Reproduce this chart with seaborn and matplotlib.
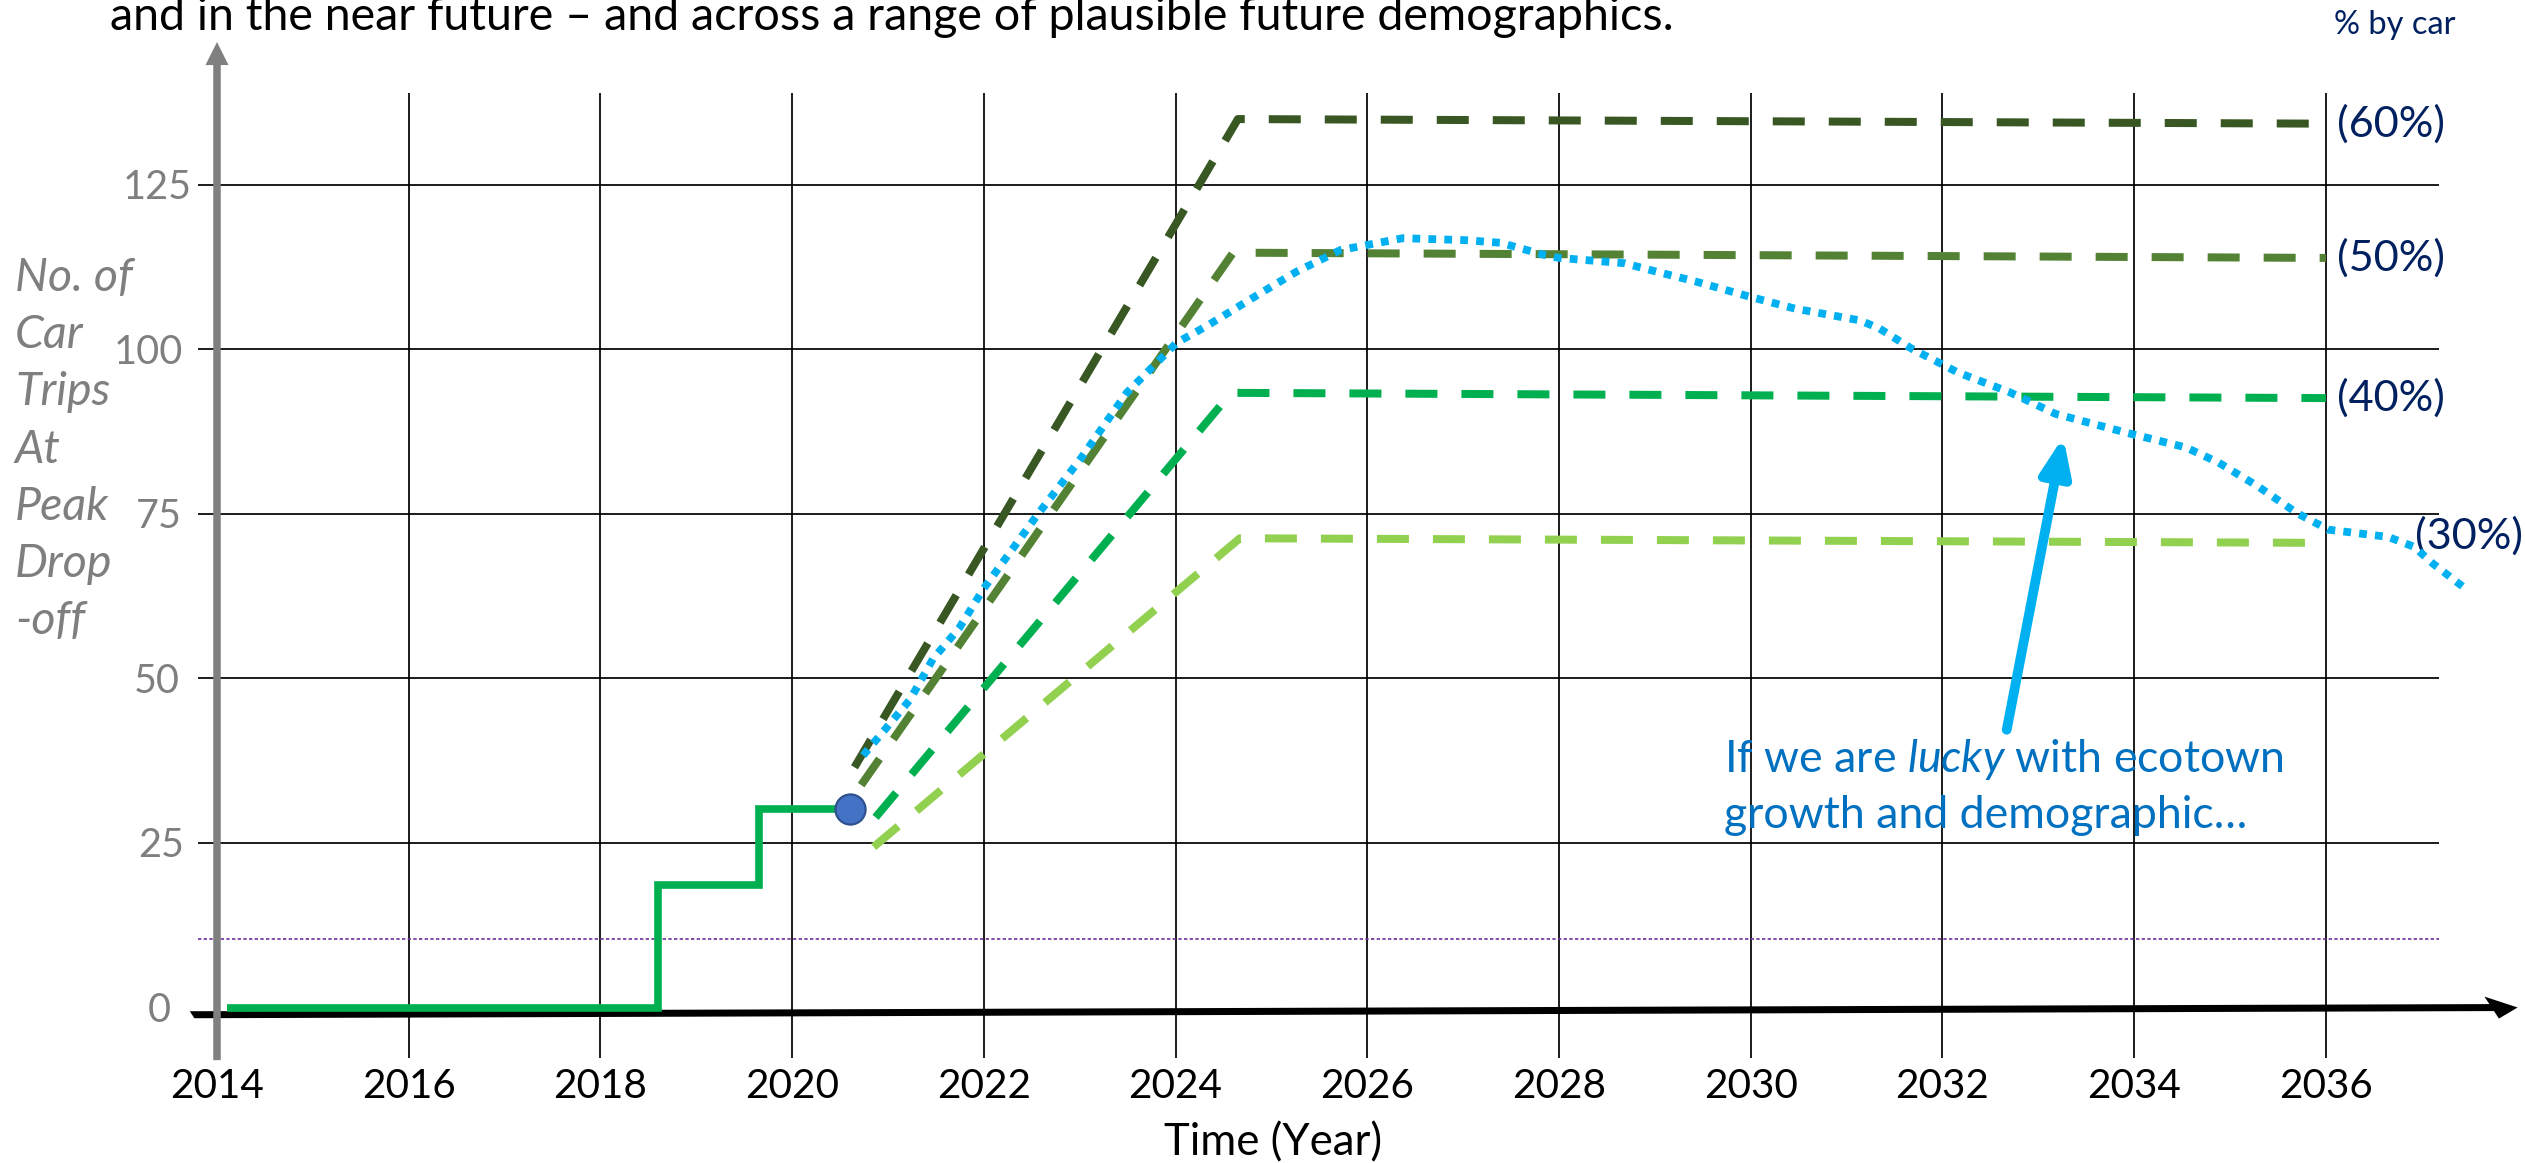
import matplotlib
matplotlib.use("Agg")
import matplotlib.pyplot as plt
import numpy as np
import pandas as pd
import seaborn as sns

# ---------------------------------------------------------------- data
# Observed peak drop-off car trips (stepped history) and today's value
hist_years = [2014.1, 2018.6, 2019.65, 2020.6]
hist_trips = [0.0, 18.6, 30.2, 30.2]
now_year = [2020.6]
now_trips = [30.2]

# Projections for different shares of trips made by car
share_labels = ["(60%)", "(50%)", "(40%)", "(30%)"]
share_years = [
    [2020.65, 2024.65, 2036.0],
    [2020.72, 2024.60, 2036.0],
    [2020.87, 2024.58, 2036.0],
    [2020.85, 2024.67, 2036.0],
]
share_trips = [
    [36.5, 135.0, 134.3],
    [33.8, 114.7, 113.9],
    [28.9, 93.4, 92.6],
    [24.4, 71.3, 70.6],
]

# "Lucky" trajectory: growth and demographic mix that favour fewer car trips
lucky_years = [2020.74, 2020.96, 2021.23, 2021.47, 2021.74, 2022.0, 2022.56,
               2023.02, 2023.49, 2024.01, 2024.33, 2024.79, 2025.26, 2025.72,
               2026.37, 2027.02, 2027.39, 2027.86, 2028.0, 2028.68, 2029.02,
               2029.43, 2029.99, 2030.46, 2031.14, 2031.34, 2031.68, 2032.16,
               2032.7, 2033.18, 2033.93, 2034.54, 2034.88, 2035.29, 2035.7,
               2036.03, 2036.65, 2036.92, 2037.12, 2037.46]
lucky_trips = [38.3, 42.1, 46.8, 53.0, 57.6, 63.7, 74.9,
               83.6, 93.4, 101.0, 103.6, 107.7, 111.8, 115.1,
               116.9, 116.6, 116.2, 114.3, 113.9, 113.1, 111.8,
               110.3, 108.0, 106.2, 104.4, 103.2, 100.1, 96.5,
               93.5, 90.2, 87.3, 85.1, 82.8, 79.2, 75.1,
               72.6, 71.5, 70.0, 67.4, 63.6]

threshold_trips = 10.4

x_ticks = [2014, 2016, 2018, 2020, 2022, 2024, 2026, 2028, 2030, 2032, 2034, 2036]
y_ticks = [0, 25, 50, 75, 100, 125]

# ---------------------------------------------------------------- styling
share_colors = ["#385723", "#548235", "#00B050", "#92D050"]
share_label_x = [2036.12, 2036.12, 2036.12, 2036.93]
share_label_dy = [0.0, 0.0, 0.0, 1.0]
ytick_right_px = [171, 184, 180, 182, 183, 192]
NAVY = "#002060"
GREY = "#7F7F7F"
LUCKY_BLUE = "#00B0F0"
NOTE_BLUE = "#0070C0"

sns.set_theme(style="white")
plt.rcParams["font.family"] = ["Lato", "DejaVu Sans"]
plt.rcParams["mathtext.fontset"] = "custom"
plt.rcParams["mathtext.rm"] = "Lato"
plt.rcParams["mathtext.it"] = "Lato:italic"

W, H = 2525, 1163
fig = plt.figure(figsize=(W / 100, H / 100), dpi=100)
ax = fig.add_axes([0, 0, 1, 1])

# pixel <-> data mapping of the canvas
PPX = 95.86            # pixels per year
PPY = 6.581            # pixels per trip
X_LEFT = 2014 - 217 / PPX
Y_TOP = 1007.5 / PPY
ax.set_xlim(X_LEFT, X_LEFT + W / PPX)
ax.set_ylim(Y_TOP - H / PPY, Y_TOP)
ax.set_axis_off()


def dx(p):
    return X_LEFT + p / PPX


def dy(p):
    return Y_TOP - p / PPY


GRID_X0, GRID_X1 = 2013.8, 2037.18

# grid
ax.vlines(x_ticks[1:], -7.7, 139.0, colors="black", lw=1.25, zorder=1)
ax.hlines(y_ticks[1:], GRID_X0, GRID_X1, colors="black", lw=1.25, zorder=1)
ax.hlines(threshold_trips, GRID_X0, GRID_X1, colors="#7030A0", lw=1.2,
          linestyles=[(0, (2, 1.4))], zorder=1.5)

# axis arrows
ax.arrow(2013.74, -1.1, 2038.0 - 2013.74, 1.1, width=7 / PPY,
         head_width=22 / PPY, head_length=26 / PPX,
         length_includes_head=True, color="black", lw=0, zorder=3)
ax.arrow(2014, -8.0, 0, 146.7 + 8.0, width=7.5 / PPX,
         head_width=23 / PPX, head_length=23 / PPY,
         length_includes_head=True, color="#808080", lw=0, zorder=3)

# history
sns.lineplot(x=hist_years, y=hist_trips, ax=ax, color="#00B050", lw=5.5,
             drawstyle="steps-post", estimator=None, sort=False,
             solid_joinstyle="miter", solid_capstyle="butt", zorder=4)

# scenarios
scen = pd.DataFrame({
    "share": np.repeat(share_labels, [len(v) for v in share_years]),
    "year": np.concatenate(share_years),
    "trips": np.concatenate(share_trips),
})
sns.lineplot(data=scen, x="year", y="trips", hue="share",
             palette=dict(zip(share_labels, share_colors)),
             hue_order=share_labels, ax=ax, lw=5.76,
             linestyle=(0, (4, 3)), estimator=None, sort=False,
             legend=False, zorder=5)

sns.lineplot(x=lucky_years, y=lucky_trips, ax=ax, color=LUCKY_BLUE, lw=5.6,
             linestyle=(0, (1, 1.05)), estimator=None, sort=False, zorder=6)

sns.scatterplot(x=now_year, y=now_trips, ax=ax, s=470, color="#4472C4",
                edgecolor="#2F528F", linewidth=1.6, zorder=7, legend=False)

# annotation arrow
ax.annotate("", xy=(2033.26, 86.7), xytext=(2032.67, 42.2),
            arrowprops=dict(arrowstyle="-|>,head_length=22,head_width=9",
                            mutation_scale=1, lw=7, color=LUCKY_BLUE,
                            shrinkA=0, shrinkB=0),
            zorder=8)

# ---------------------------------------------------------------- text
renderer = fig.canvas.get_renderer()


def fit(ref, target, others=()):
    k = target / ref.get_window_extent(renderer).width
    for t in (ref, *others):
        t.set_fontsize(t.get_fontsize() * k)


title = ax.text(dx(110), dy(30), "and in the near future \u2013 and across a range of "
                "plausible future demographics.", fontsize=30, color="black",
                ha="left", va="baseline")
fit(title, 1568)

by_car = ax.text(dx(2334), dy(25), "% by car", fontsize=20, color=NAVY,
                 ha="left", va="center")
fit(by_car, 122)

labels = []
for lab, xs, ys, lx, ddy in zip(share_labels, share_years, share_trips,
                                share_label_x, share_label_dy):
    labels.append(ax.text(lx, ys[-1] + ddy, lab, fontsize=30, color=NAVY,
                          ha="left", va="center"))
fit(labels[0], 108, labels[1:])

ylab_lines = ["No. of", "Car", "Trips", "At", "Peak", "Drop", "-off"]
ylab = [ax.text(dx(15), dy(291 + 57.2 * i), s, fontsize=30, color=GREY,
                style="italic", ha="left", va="baseline")
        for i, s in enumerate(ylab_lines)]
fit(ylab[0], 118, ylab[1:])

yt = [ax.text(dx(rx), dy(1007.5 - v * PPY + 14.5), f"{v}", fontsize=28,
              color=GREY, ha="right", va="baseline")
      for v, rx in zip(y_ticks, ytick_right_px)]
fit(yt[-1], 69, yt[:-1])

xt = [ax.text(x, dy(1098), f"{x}", fontsize=28, color="black", ha="center",
              va="baseline") for x in x_ticks]
fit(xt[0], 94, xt[1:])

xlab = ax.text(dx(1273), dy(1155), "Time (Year)", fontsize=30, color="black",
               ha="center", va="baseline")
fit(xlab, 218)

note1 = ax.text(dx(1724), dy(772), "If we are $\\mathit{lucky}$ with ecotown",
                fontsize=30, color=NOTE_BLUE, ha="left", va="baseline")
note2 = ax.text(dx(1724), dy(828), "growth and demographic\u2026", fontsize=30,
                color=NOTE_BLUE, ha="left", va="baseline")
fit(note1, 560, [note2])

fig.savefig("out.png", dpi=100, facecolor="white")
